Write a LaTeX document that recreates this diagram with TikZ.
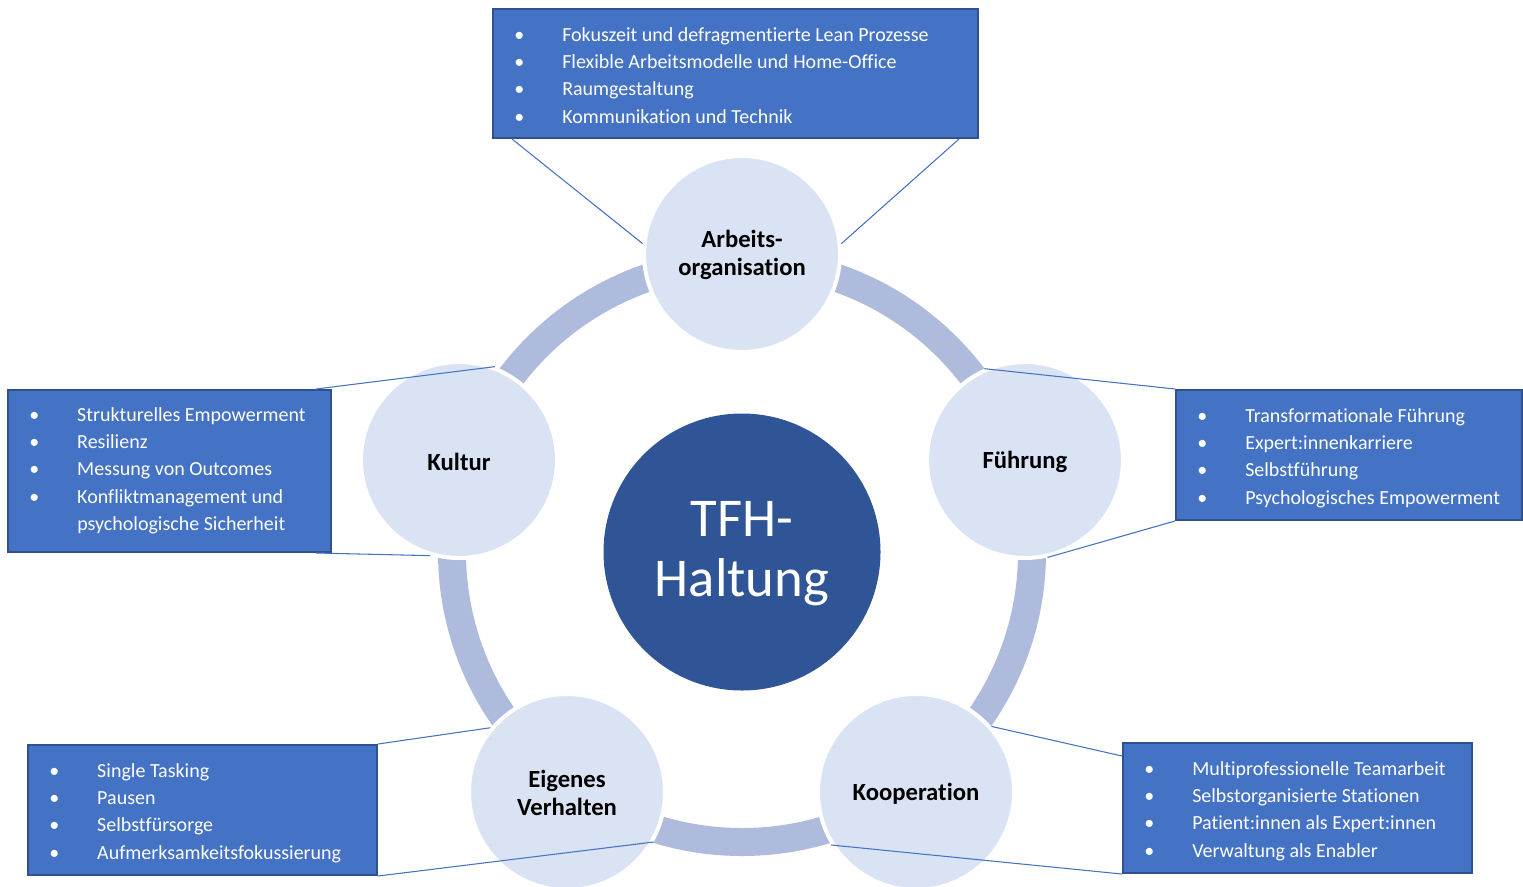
\documentclass[tikz,border=0pt]{standalone}
\usepackage{fontspec}
\setmainfont{Carlito}[RawFeature={-liga;-clig;-calt;-dlig}]
\usetikzlibrary{fit,calc}
\definecolor{boxfill}{HTML}{4472C4}
\definecolor{boxedge}{HTML}{2F528F}
\definecolor{circfill}{HTML}{DAE3F3}
\definecolor{ringcol}{HTML}{AFBBDD}
\definecolor{corecol}{HTML}{2F5597}
\definecolor{linkcol}{HTML}{4472C4}
\tikzset{
  listbox/.style={rectangle, fill=boxfill, draw=boxedge, line width=1.5pt, inner sep=0pt},
  listtext/.style={anchor=base west, inner sep=0pt, text=white, font=\fontsize{15}{20.6}\selectfont},
  topic/.style={circle, fill=circfill, draw=white, line width=3pt, minimum size=147pt, inner sep=0pt},
  topiclabel/.style={align=center, inner sep=0pt, font=\bfseries\fontsize{18.5}{21}\selectfont, text=black},
  core/.style={circle, fill=corecol, minimum size=207.75pt, inner sep=0pt},
  corelabel/.style={align=center, inner sep=0pt, text=white, font=\fontsize{41}{45}\selectfont},
  ring/.style={draw=ringcol, line width=21pt},
  link/.style={draw=linkcol, line width=0.8pt}
}
\begin{document}
\begin{tikzpicture}[x=0.75pt,y=-0.75pt]
\useasboundingbox (0,0) rectangle (1523,886);
% ring
\coordinate (mid) at (742,552);
\draw[ring] (mid) circle[radius=217.5pt];
% center
\node[core] (tfh) at (742,552) {};
\node[corelabel] (tfhtext) at (742,554) {TFH-\\Haltung};
% boxes
\node[listbox, fit={(493,9) (978,138)}] (bA) {};
\node[listbox, fit={(8,390) (331,552)}] (bK) {};
\node[listbox, fit={(1176,390) (1522,520)}] (bF) {};
\node[listbox, fit={(28,745) (377,875)}] (bE) {};
\node[listbox, fit={(1123,743) (1472,873)}] (bC) {};
% box texts
\node[listtext] (tA) at (514,41) {\begin{tabular}[t]{@{}p{36pt}@{}l@{}}
\textbullet & Fokuszeit und defragmentierte Lean Prozesse\\
\textbullet & Flexible Arbeitsmodelle und Home-Office\\
\textbullet & Raumgestaltung\\
\textbullet & Kommunikation und Technik
\end{tabular}};
\node[listtext] (tK) at (29,421) {\begin{tabular}[t]{@{}p{36pt}@{}l@{}}
\textbullet & Strukturelles Empowerment\\
\textbullet & Resilienz\\
\textbullet & Messung von Outcomes\\
\textbullet & Konfliktmanagement und\\
 & psychologische Sicherheit
\end{tabular}};
\node[listtext] (tF) at (1197,422) {\begin{tabular}[t]{@{}p{36pt}@{}l@{}}
\textbullet & Transformationale Führung\\
\textbullet & Expert:innenkarriere\\
\textbullet & Selbstführung\\
\textbullet & Psychologisches Empowerment
\end{tabular}};
\node[listtext] (tE) at (49,777) {\begin{tabular}[t]{@{}p{36pt}@{}l@{}}
\textbullet & Single Tasking\\
\textbullet & Pausen\\
\textbullet & Selbstfürsorge\\
\textbullet & Aufmerksamkeitsfokussierung
\end{tabular}};
\node[listtext] (tC) at (1144,775) {\begin{tabular}[t]{@{}p{36pt}@{}l@{}}
\textbullet & Multiprofessionelle Teamarbeit\\
\textbullet & Selbstorganisierte Stationen\\
\textbullet & Patient:innen als Expert:innen\\
\textbullet & Verwaltung als Enabler
\end{tabular}};
% topic circles
\node[topic] (cA) at (742,254) {};
\node[topic] (cK) at (459,460) {};
\node[topic] (cF) at (1025,460) {};
\node[topic] (cE) at (567,792) {};
\node[topic] (cC) at (916,792) {};
\node[topiclabel] (lA) at (742,255) {Arbeits-\\organisation};
\node[topiclabel] (lK) at (459,462) {Kultur};
\node[topiclabel] (lF) at (1025,462) {Führung};
\node[topiclabel] (lE) at (567,793) {Eigenes\\Verhalten};
\node[topiclabel] (lC) at (916,794) {Kooperation};
% connectors
\draw[link] ($(bA.south west)+(20,0)$) -- (cA.174);
\draw[link] ($(bA.south east)+(-20,0)$) -- (cA.6);
\draw[link] ($(bK.north east)+(-16,0)$) -- (cK.69);
\draw[link] ($(bK.south east)+(-16,0)$) -- (cK.253);
\draw[link] (bF.north west) -- (cF.114);
\draw[link] (bF.south west) -- (cF.283);
\draw[link] (bE.north east) -- (cE.140);
\draw[link] (bE.south east) -- (cE.330);
\draw[link] ($(bC.north west)+(0,14)$) -- (cC.41);
\draw[link] (bC.south west) -- (cC.212);
\end{tikzpicture}
\end{document}
